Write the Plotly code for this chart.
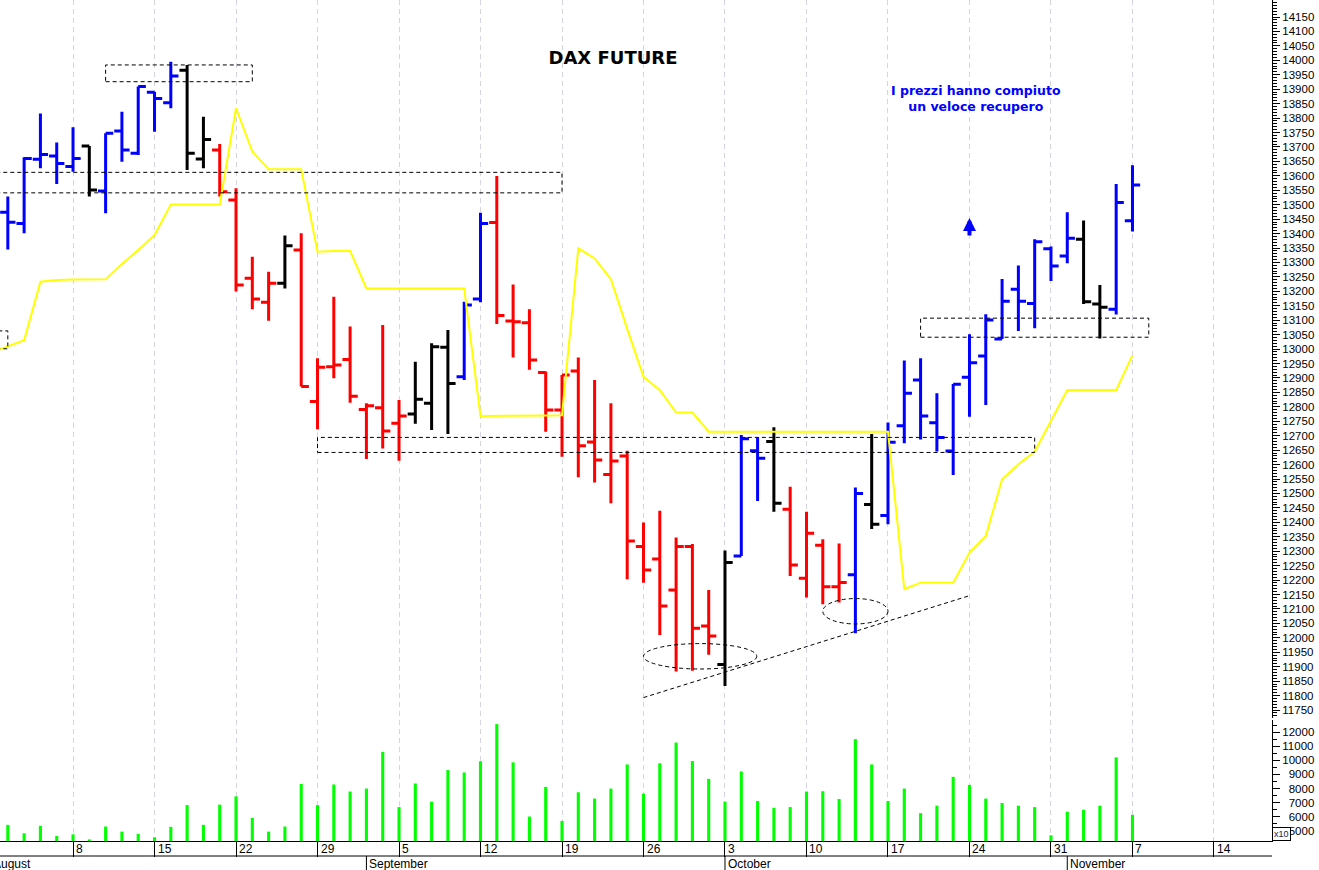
import numpy as np
import pandas as pd
import plotly.graph_objects as go

# ---------------- data ----------------
START = "2022-08-01"
axis_calendar = pd.bdate_range(START, "2022-11-25")          # trading-day calendar of the x axis
bar_dates = pd.bdate_range("2022-08-02", "2022-11-07")        # 70 sessions shown

# B = blue, R = red, K = black (bar colour code of the original chart)
bar_code = list("BBBBBKBBBBBKKRRRRKRRRRRRRKKKBBRRRRRRRRRRRRRRKBBKRRRRBKBBBBBBBBBBBBKKBB")

opens = [13474, 13435, 13657, 13669, 13632, 13703, 13547, 13755, 13678, 13889,
         13853, 13966, 13658, 13689, 13516, 13245, 13162, 13228, 13343, 12818,
         12939, 12964, 12791, 12797, 12743, 12775, 12812, 13006, 12904, 13173,
         13438, 13097, 13091, 12919, 12789, 12924, 12678, 12566, 12630, 12316,
         12273, 12166, 12316, 12041, 11908, 12283, 12648, 12680, 12445, 12206,
         12321, 12177, 12218, 12462, 12424, 12734, 12893, 12745, 12647, 12902,
         12976, 13035, 13207, 13158, 13347, 13322, 13380, 13156, 13138, 13444]
highs = [13528, 13664, 13816, 13715, 13768, 13703, 13747, 13822, 13909, 13891,
         13995, 13984, 13805, 13710, 13557, 13320, 13268, 13393, 13401, 12968,
         13181, 13078, 12812, 13083, 12824, 12956, 13020, 13066, 13164, 13472,
         13599, 13224, 13138, 12922, 12910, 12971, 12893, 12812, 12648, 12399,
         12440, 12347, 12325, 12166, 12302, 12702, 12694, 12729, 12523, 12437,
         12341, 12327, 12521, 12706, 12746, 12960, 12968, 12847, 12879, 13051,
         13121, 13243, 13289, 13380, 13355, 13474, 13445, 13222, 13572, 13637]
lows = [13345, 13401, 13626, 13572, 13614, 13528, 13470, 13649, 13672, 13753,
        13834, 13620, 13626, 13528, 13199, 13138, 13098, 13210, 12870, 12722,
        12899, 12814, 12619, 12656, 12613, 12741, 12720, 12706, 12893, 13162,
        13087, 12971, 12928, 12714, 12627, 12556, 12538, 12466, 12203, 12191,
        12010, 11883, 11886, 11941, 11833, 12283, 12474, 12437, 12214, 12140,
        12116, 12122, 12016, 12377, 12393, 12674, 12687, 12645, 12564, 12766,
        12806, 13035, 13063, 13072, 13236, 13297, 13156, 13037, 13120, 13407]
closes = [13439, 13660, 13674, 13643, 13660, 13551, 13747, 13689, 13909, 13868,
          13946, 13678, 13726, 13545, 13222, 13173, 13228, 13358, 12870, 12937,
          12945, 12837, 12804, 12716, 12768, 12826, 13008, 12881, 13153, 13435,
          13116, 13095, 12962, 12789, 12910, 12665, 12616, 12612, 12335, 12235,
          12110, 12316, 12033, 12006, 12261, 12689, 12622, 12466, 12252, 12362,
          12177, 12192, 12500, 12393, 12677, 12847, 12768, 12694, 12878, 12953,
          13101, 13166, 13166, 13372, 13288, 13384, 13164, 13145, 13508, 13568]
volumes = [5430, 4830, 5360, 4640, 4760, 4400, 5310, 4950, 4790, 4550,
           5290, 6830, 5430, 6860, 7450, 5930, 4950, 5310, 8330, 6830,
           8290, 7790, 8000, 10600, 6690, 8360, 7070, 9310, 9140, 9930,
           12570, 9860, 6020, 8120, 5710, 7740, 7290, 8000, 9710, 7640,
           9790, 11260, 9950, 8690, 7070, 9210, 7120, 6640, 6690, 7790,
           7810, 7260, 11500, 9710, 7120, 8000, 6260, 6790, 8830, 8260,
           7290, 6980, 6790, 6690, 4690, 6360, 6500, 6790, 10210, 6140]

ma_dates = pd.bdate_range("2022-08-01", "2022-11-07")
ma_values = [12988,
             13010, 13031, 13233, 13239, 13241, 13242, 13242, 13295, 13343, 13395,
             13501, 13501, 13501, 13501, 13834, 13684, 13623, 13623, 13623, 13337,
             13340, 13340, 13210, 13210, 13210, 13210, 13210, 13210, 13210, 12768,
             12768, 12768, 12768, 12770, 12771, 13349, 13314, 13242, 13070, 12904,
             12858, 12780, 12780, 12714, 12714, 12714, 12714, 12714, 12714, 12714,
             12714, 12714, 12714, 12714, 12714, 12169, 12191, 12191, 12191, 12295,
             12353, 12549, 12601, 12645, 12753, 12858, 12858, 12858, 12858, 12979]

# drawn studies (session position, price)
rect_x0 = [7, -1, -1, 20, 57]
rect_x1 = [16, 35, 1, 64, 71]
rect_y0 = [13926, 13541, 13001, 12642, 13041]
rect_y1 = [13984, 13612, 13063, 12694, 13107]
ell_x0 = [40.0, 51.0]
ell_x1 = [46.95, 55.0]
ell_y0 = [11892, 12048]
ell_y1 = [11980, 12136]
trend_x = [40.0, 60.0]
trend_y = [11793, 12146]
arrow_x, arrow_tail, arrow_head = 60, 13388, 13454

price_ticks = list(range(11750, 14151, 50))
vol_ticks = list(range(5000, 12001, 1000))


def pos(d):
    return int(np.busday_count(START, pd.Timestamp(d).strftime("%Y-%m-%d")))


bx = [pos(d) for d in bar_dates]
mx = [pos(d) for d in ma_dates]
XR = [0.52, 78.56]

COL = {"B": "#0000ff", "R": "#ff0000", "K": "#000000"}
FONT = "Liberation Sans, Arial"

fig = go.Figure()

# volume
fig.add_trace(go.Bar(x=bx, y=volumes, width=0.19, marker=dict(color="#00ff00", line_width=0),
                     yaxis="y2", showlegend=False))

# moving line
fig.add_trace(go.Scatter(x=mx, y=ma_values, mode="lines", line=dict(color="#ffff00", width=2),
                         showlegend=False, yaxis="y"))

# OHLC bars, one trace per colour
for code, c in COL.items():
    idx = [i for i, k in enumerate(bar_code) if k == code]
    fig.add_trace(go.Ohlc(
        x=[bx[i] for i in idx], open=[opens[i] for i in idx], high=[highs[i] for i in idx],
        low=[lows[i] for i in idx], close=[closes[i] for i in idx],
        increasing=dict(line=dict(color=c, width=3)), decreasing=dict(line=dict(color=c, width=3)),
        tickwidth=0.47, showlegend=False, yaxis="y"))

DASH = "4px,3px"
shapes = []
for x0, x1, y0, y1 in zip(rect_x0, rect_x1, rect_y0, rect_y1):
    shapes.append(dict(type="rect", xref="x", yref="y", x0=x0, x1=x1, y0=y0, y1=y1,
                       line=dict(color="black", width=1, dash=DASH)))
for x0, x1, y0, y1 in zip(ell_x0, ell_x1, ell_y0, ell_y1):
    shapes.append(dict(type="circle", xref="x", yref="y", x0=x0, x1=x1, y0=y0, y1=y1,
                       line=dict(color="black", width=1, dash=DASH)))
shapes.append(dict(type="line", xref="x", yref="y", x0=trend_x[0], x1=trend_x[1],
                   y0=trend_y[0], y1=trend_y[1], line=dict(color="black", width=1, dash=DASH)))

# x axis bands below plot
PH = 841.0
shapes.append(dict(type="line", xref="paper", yref="paper", x0=0, x1=1, y0=-15 / PH, y1=-15 / PH,
                   line=dict(color="black", width=1)))
annotations = []
mondays = [pos(d) for d in axis_calendar if d.weekday() == 0 and XR[0] <= pos(d) <= XR[1]]
for d in axis_calendar:
    p = pos(d)
    if d.weekday() == 0 and XR[0] <= p <= XR[1]:
        annotations.append(dict(x=p, xref="x", y=-8 / PH, yref="paper", text=str(d.day),
                                showarrow=False, xanchor="left", yanchor="middle", xshift=1,
                                font=dict(size=12, color="black", family=FONT)))
# month labels
seen = set()
for d in axis_calendar:
    if d.month in seen:
        continue
    seen.add(d.month)
    p = pos(d)
    name = d.strftime("%B")
    if p < XR[0]:
        annotations.append(dict(x=0, xref="paper", y=-23 / PH, yref="paper", text=name, showarrow=False,
                                xanchor="left", yanchor="middle", xshift=-9,
                                font=dict(size=12, color="black", family=FONT)))
        continue
    shapes.append(dict(type="line", xref="x", yref="paper", x0=p, x1=p, y0=-15 / PH, y1=-30 / PH,
                       line=dict(color="black", width=1)))
    annotations.append(dict(x=p, xref="x", y=-23 / PH, yref="paper", text=name, showarrow=False,
                            xanchor="left", yanchor="middle", xshift=1,
                            font=dict(size=12, color="black", family=FONT)))

annotations.append(dict(x=1, xref="paper", y=0, yref="paper", text="x10", showarrow=False,
                        xanchor="left", yanchor="bottom", bordercolor="black", borderwidth=1,
                        borderpad=1, bgcolor="white", font=dict(size=9, color="#222244", family=FONT)))
annotations.append(dict(x=60.4, xref="x", y=13869, yref="y",
                        text="<b>I prezzi hanno compiuto<br>un veloce recupero</b>",
                        showarrow=False, font=dict(size=12.5, color="#0000ff", family="DejaVu Sans")))
annotations.append(dict(x=arrow_x, y=arrow_head, ax=arrow_x, ay=arrow_tail, xref="x", yref="y",
                        axref="x", ayref="y", text="", showarrow=True, arrowhead=2, arrowsize=0.65,
                        arrowwidth=4, arrowcolor="#0000ff"))

# volume labels are right-aligned in the original: pad shorter ones with a figure space
vol_text = [("\u2007" * (5 - len(str(v)))) + str(v) for v in vol_ticks]

fig.update_layout(
    width=1319, height=870,
    margin=dict(l=0, r=47, t=0, b=29, autoexpand=False),
    paper_bgcolor="white", plot_bgcolor="white",
    showlegend=False,
    title=dict(text="<b>DAX FUTURE</b>", x=613 / 1319, xref="container", xanchor="center",
               y=1 - 58 / 870, yref="container", yanchor="middle",
               font=dict(size=18, color="black", family="DejaVu Sans")),
    xaxis=dict(range=XR, anchor="y2", tickmode="array", tickvals=mondays, showticklabels=False,
               ticks="outside", ticklen=15, tickcolor="black", tickwidth=1,
               showgrid=True, gridcolor="#d4d4e4", griddash="5px,4px", gridwidth=1,
               showline=True, linecolor="black", linewidth=1, zeroline=False, automargin=False,
               rangeslider=dict(visible=False)),
    yaxis=dict(domain=[123 / PH, 1], range=[11722.3, 14208.9], side="right", anchor="x",
               tickmode="array", tickvals=price_ticks, ticktext=[str(v) for v in price_ticks],
               ticks="outside", ticklen=7, automargin=False,
               tickcolor="black", showline=True, linecolor="black", showgrid=False, zeroline=False,
               tickfont=dict(size=11.5, color="black", family=FONT),
               minor=dict(tickmode="linear", tick0=0, dtick=10, ticks="outside", ticklen=4,
                          tickcolor="black", showgrid=False)),
    yaxis2=dict(domain=[0, 121 / PH], range=[4286, 12857], side="right", anchor="x",
                tickmode="array", tickvals=vol_ticks, ticktext=vol_text,
                ticks="outside", ticklen=7, automargin=False,
                tickcolor="black", showline=True, linecolor="black", showgrid=False, zeroline=False,
                tickfont=dict(size=11.5, color="black", family=FONT),
                minor=dict(tickmode="linear", tick0=0, dtick=500, ticks="outside", ticklen=4,
                           tickcolor="black", showgrid=False)),
    shapes=shapes, annotations=annotations,
)

fig.write_html("out.html", config={"displayModeBar": False},
               post_script="document.body.style.margin='0';document.body.style.padding='0';")
